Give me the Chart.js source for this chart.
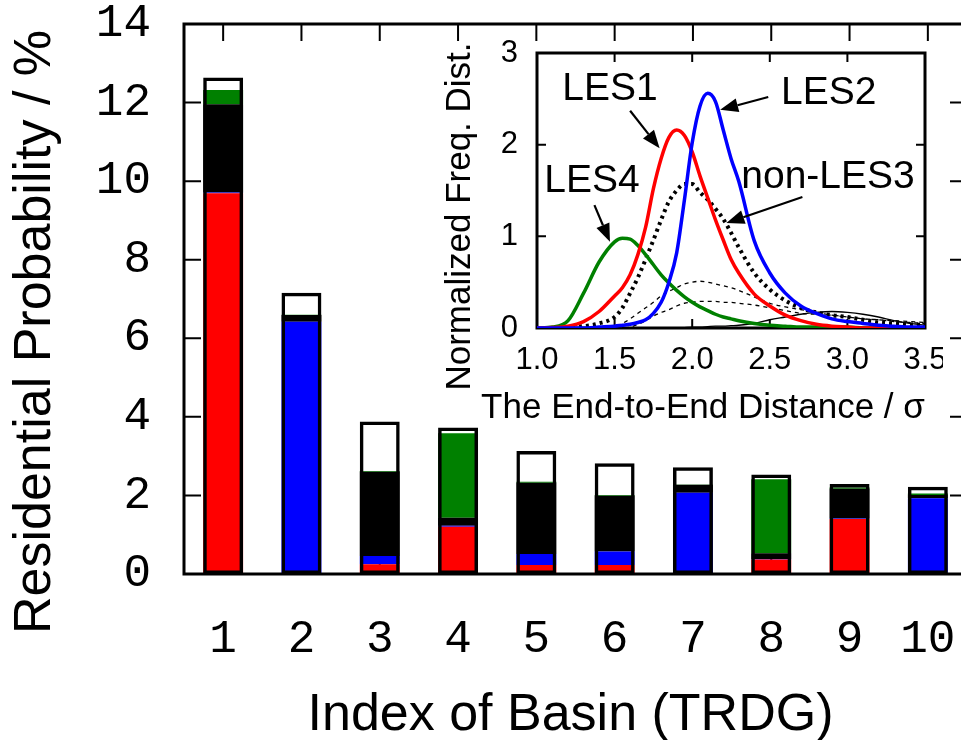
<!DOCTYPE html>
<html>
<head>
<meta charset="utf-8">
<script src="https://cdn.jsdelivr.net/npm/chart.js@4.4.1/dist/chart.umd.min.js"></script>
<style>
  html, body { margin:0; padding:0; background:#fff; overflow:hidden; }
  #wrap  { position:relative; width:961px; height:740px; overflow:hidden; }
  #main  { position:absolute; left:0; top:0; }
  #inset { position:absolute; left:430px; top:40px; }
</style>
</head>
<body>
<div id="wrap">
  <canvas id="main" width="980" height="740"></canvas>
  <canvas id="inset" width="513" height="390"></canvas>
</div>
<script>
  // ── basin populations (stacked, %) ─────────────────────────────────────────
  const basins  = ['1','2','3','4','5','6','7','8','9','10'];
  const les1    = [9.69, 0,    0.25, 1.20, 0.23, 0.23, 0,    0.37, 1.40, 0.03];
  const les2    = [0.02, 6.42, 0.21, 0.03, 0.28, 0.34, 2.07, 0.01, 0.01, 1.90];
  const nonLes3 = [2.25, 0.17, 2.14, 0.20, 1.81, 1.42, 0.20, 0.15, 0.76, 0.08];
  const les4    = [0.36, 0.01, 0.02, 2.15, 0.03, 0.02, 0.01, 1.88, 0.03, 0.04];
  const others  = [0.32, 0.56, 1.26, 0.15, 0.78, 0.81, 0.44, 0.12, 0.09, 0.17];
  const totals  = basins.map((_, i) => les1[i] + les2[i] + nonLes3[i] + les4[i] + others[i]);

  // ── end-to-end distance distributions ──────────────────────────────────────
  const dist     = [1.0,1.1,1.2,1.3,1.4,1.5,1.55,1.6,1.65,1.7,1.75,1.8,1.85,1.9,1.95,2.0,2.05,2.1,2.15,2.2,2.25,2.3,2.4,2.5,2.6,2.7,2.8,2.9,3.0,3.1,3.2,3.3,3.4,3.5];
  const distLes2 = [0,0,0,0,0.01,0.02,0.03,0.04,0.06,0.09,0.16,0.28,0.5,0.82,1.4,2.02,2.42,2.56,2.47,2.16,1.85,1.6,0.95,0.6,0.38,0.24,0.16,0.1,0.07,0.05,0.03,0.02,0.01,0.01];
  const distLes1 = [0,0.005,0.02,0.07,0.18,0.35,0.44,0.58,0.8,1.1,1.52,1.85,2.08,2.16,2.1,1.92,1.66,1.42,1.18,0.96,0.75,0.6,0.37,0.24,0.14,0.08,0.04,0.02,0.01,0,0,0,0,0];
  const distLes4 = [0,0.01,0.08,0.38,0.72,0.94,0.98,0.97,0.9,0.8,0.69,0.58,0.49,0.41,0.34,0.28,0.23,0.19,0.15,0.12,0.1,0.08,0.05,0.03,0.02,0.01,0.01,0.01,0.01,0,0,0,0,0];
  const distNon3 = [0,0,0.01,0.02,0.05,0.12,0.22,0.38,0.55,0.75,0.96,1.18,1.38,1.5,1.57,1.57,1.48,1.4,1.3,1.19,1.04,0.88,0.6,0.42,0.3,0.22,0.17,0.14,0.12,0.09,0.06,0.05,0.04,0.03];
  const distMin1 = [0,0,0,0,0,0.02,0.05,0.1,0.16,0.22,0.28,0.35,0.4,0.44,0.48,0.5,0.51,0.5,0.48,0.46,0.44,0.41,0.34,0.27,0.23,0.2,0.17,0.14,0.12,0.1,0.09,0.08,0.07,0.06];
  const distMin2 = [0,0,0,0,0,0,0,0.01,0.04,0.08,0.13,0.17,0.2,0.24,0.27,0.28,0.29,0.29,0.29,0.28,0.28,0.27,0.25,0.22,0.19,0.16,0.15,0.14,0.12,0.1,0.09,0.07,0.06,0.05];
  const distMin3 = [0,0,0,0,0,0,0,0,0,0,0,0,0,0,0.005,0.01,0.01,0.015,0.02,0.02,0.025,0.03,0.05,0.09,0.12,0.15,0.17,0.18,0.17,0.15,0.12,0.08,0.05,0.03];

  // labels + arrows inside the inset, in data units
  const insetNotes = [
    { text:'LES1',     at:[1.47, 2.60],  from:[1.60, 2.37], to:[1.79, 1.96] },
    { text:'LES2',     at:[2.88, 2.56],  from:[2.49, 2.52], to:[2.18, 2.38] },
    { text:'non-LES3', at:[2.875, 1.64], from:[2.71, 1.43], to:[2.22, 1.145] },
    { text:'LES4',     at:[1.354, 1.60], from:[1.37, 1.34], to:[1.47, 0.94] },
  ];

  const SANS = '"Liberation Sans", Arial, sans-serif';
  const MONO = '"Liberation Mono", "Courier New", monospace';
  const RED = '#ff0000', BLUE = '#0000ff', GREEN = '#008000';

  // ── MAIN FRAME: inward ticks, box, axis titles ──────────────────────────────
  const mainFrame = {
    id: 'mainFrame',
    beforeDatasetsDraw(chart) {
      const { ctx, chartArea: a, scales: { x, y } } = chart;
      const T = 17;
      ctx.save();
      ctx.strokeStyle = '#000'; ctx.lineWidth = 2;
      ctx.beginPath();
      y.ticks.forEach((_, i) => {
        const py = y.getPixelForTick(i);
        ctx.moveTo(a.left, py);  ctx.lineTo(a.left + T, py);
        ctx.moveTo(a.right, py); ctx.lineTo(a.right - T, py);
      });
      x.ticks.forEach((_, i) => {
        const px = x.getPixelForTick(i);
        ctx.moveTo(px, a.top);    ctx.lineTo(px, a.top + T);
        ctx.moveTo(px, a.bottom); ctx.lineTo(px, a.bottom - T);
      });
      ctx.stroke();
      ctx.restore();
    },
    afterDatasetsDraw(chart) {
      const { ctx, chartArea: a } = chart;
      ctx.save();
      ctx.strokeStyle = '#000'; ctx.lineWidth = 3;
      ctx.strokeRect(a.left, a.top, a.right - a.left, a.bottom - a.top);
      ctx.restore();
    },
    afterDraw(chart) {
      const { ctx, chartArea: a } = chart;
      ctx.save();
      ctx.fillStyle = '#000';
      ctx.font = '52px ' + SANS;
      ctx.textAlign = 'center'; ctx.textBaseline = 'alphabetic';
      ctx.fillText('Index of Basin (TRDG)', (a.left + a.right) / 2 - 5, a.bottom + 156);
      ctx.translate(a.left - 134, (a.top + a.bottom) / 2 + 33);
      ctx.rotate(-Math.PI / 2);
      ctx.fillText('Residential Probability / %', 0, 0);
      ctx.restore();
    }
  };

  const barCommon = { borderWidth: 0, barPercentage: 0.51, categoryPercentage: 1 };

  new Chart(document.getElementById('main'), {
    type: 'bar',
    data: {
      labels: basins,
      datasets: [
        { label:'outline', data: totals, backgroundColor:'rgba(0,0,0,0)', borderColor:'#000', borderWidth:3.5,
          borderSkipped:false, stack:'outline', grouped:false, order:-1, barPercentage:0.51, categoryPercentage:1 },
        { label:'LES1',     data: les1,    backgroundColor: RED,    ...barCommon },
        { label:'LES2',     data: les2,    backgroundColor: BLUE,   ...barCommon },
        { label:'non-LES3', data: nonLes3, backgroundColor: '#000', ...barCommon },
        { label:'LES4',     data: les4,    backgroundColor: GREEN,  ...barCommon },
        { label:'others',   data: others,  backgroundColor: '#fff', ...barCommon },
      ]
    },
    options: {
      responsive: false, animation: false, devicePixelRatio: 1,
      layout: { padding: { top: 24, right: 13, left: 0, bottom: 0 } },
      plugins: { legend: { display:false }, tooltip: { enabled:false } },
      scales: {
        x: {
          stacked: true,
          grid: { display:false, drawTicks:false }, border: { display:false },
          ticks: { font:{ family:MONO, size:46 }, color:'#000', padding:38, maxRotation:0, autoSkip:false },
          afterFit(s) { s.height = 166; s.paddingLeft = 0; s.paddingRight = 0; }
        },
        y: {
          stacked: true, min: 0, max: 14,
          grid: { display:false, drawTicks:false }, border: { display:false },
          ticks: { stepSize:2, font:{ family:MONO, size:46 }, color:'#000', padding:33 },
          afterFit(s) { s.width = 184; s.paddingTop = 0; s.paddingBottom = 0; }
        }
      }
    },
    plugins: [mainFrame]
  });

  // ── INSET: frame, ticks, titles, arrows ────────────────────────────────────
  function drawArrow(ctx, x0, y0, x1, y1) {
    const ang = Math.atan2(y1 - y0, x1 - x0), L = 18, W = 7;
    const bx = x1 - L * Math.cos(ang), by = y1 - L * Math.sin(ang);
    ctx.beginPath(); ctx.moveTo(x0, y0); ctx.lineTo(bx, by); ctx.stroke();
    ctx.beginPath();
    ctx.moveTo(x1, y1);
    ctx.lineTo(bx + W * Math.sin(ang), by - W * Math.cos(ang));
    ctx.lineTo(bx - W * Math.sin(ang), by + W * Math.cos(ang));
    ctx.closePath(); ctx.fill();
  }

  const insetFrame = {
    id: 'insetFrame',
    beforeDatasetsDraw(chart) {
      const { ctx, chartArea: a, scales: { x, y } } = chart;
      const T = 9;
      ctx.save();
      ctx.strokeStyle = '#000'; ctx.lineWidth = 2;
      ctx.beginPath();
      y.ticks.forEach((_, i) => {
        const py = y.getPixelForTick(i);
        ctx.moveTo(a.left, py);  ctx.lineTo(a.left + T, py);
        ctx.moveTo(a.right, py); ctx.lineTo(a.right - T, py);
      });
      x.ticks.forEach((_, i) => {
        const px = x.getPixelForTick(i);
        ctx.moveTo(px, a.top);    ctx.lineTo(px, a.top + T);
        ctx.moveTo(px, a.bottom); ctx.lineTo(px, a.bottom - T);
      });
      ctx.stroke();
      ctx.lineWidth = 3;
      ctx.strokeRect(a.left, a.top, a.right - a.left, a.bottom - a.top);
      ctx.restore();
    },
    afterDraw(chart) {
      const { ctx, chartArea: a, scales: { x, y } } = chart;
      ctx.save();
      ctx.fillStyle = '#000'; ctx.strokeStyle = '#000'; ctx.lineWidth = 2.2;
      ctx.font = '39px ' + SANS;
      ctx.textAlign = 'center'; ctx.textBaseline = 'middle';
      insetNotes.forEach(n => {
        ctx.fillText(n.text, x.getPixelForValue(n.at[0]), y.getPixelForValue(n.at[1]));
        drawArrow(ctx, x.getPixelForValue(n.from[0]), y.getPixelForValue(n.from[1]),
                       x.getPixelForValue(n.to[0]),   y.getPixelForValue(n.to[1]));
      });
      ctx.font = '35px ' + SANS;
      ctx.textBaseline = 'alphabetic';
      ctx.fillText('The End-to-End Distance / \u03c3', (a.left + a.right) / 2 - 28, a.bottom + 90);
      ctx.translate(a.left - 67, (a.top + a.bottom) / 2 + 26);
      ctx.rotate(-Math.PI / 2);
      ctx.fillText('Normalized Freq. Dist.', 0, 0);
      ctx.restore();
    }
  };

  const pts = arr => dist.map((d, i) => ({ x: d, y: arr[i] }));
  const curve = (arr, color, width, dash) => ({
    data: pts(arr), borderColor: color, borderWidth: width, borderDash: dash || [],
    pointRadius: 0, fill: false, tension: 0.25, cubicInterpolationMode: 'monotone'
  });

  new Chart(document.getElementById('inset'), {
    type: 'line',
    data: {
      datasets: [
        curve(distLes2, BLUE,  3.5),
        curve(distLes1, RED,   3.5),
        curve(distLes4, GREEN, 3.5),
        curve(distNon3, '#000', 4, [3, 4]),
        curve(distMin1, '#000', 1.3, [4, 4]),
        curve(distMin2, '#000', 1.3, [4, 4]),
        curve(distMin3, '#000', 1.3),
      ]
    },
    options: {
      responsive: false, animation: false, devicePixelRatio: 1,
      layout: { padding: { top: 13, right: 18, left: 0, bottom: 0 } },
      plugins: { legend: { display:false }, tooltip: { enabled:false } },
      scales: {
        x: {
          type: 'linear', min: 1, max: 3.5,
          grid: { display:false, drawTicks:false }, border: { display:false },
          ticks: { stepSize:0.5, callback: v => Number(v).toFixed(1), font:{ family:SANS, size:31 }, color:'#000',
                   padding:14, maxRotation:0, autoSkip:false },
          afterFit(s) { s.height = 102; s.paddingLeft = 0; s.paddingRight = 0; }
        },
        y: {
          min: 0, max: 3,
          grid: { display:false, drawTicks:false }, border: { display:false },
          ticks: { stepSize:1, font:{ family:SANS, size:31 }, color:'#000', padding:19 },
          afterFit(s) { s.width = 107; s.paddingTop = 0; s.paddingBottom = 0; }
        }
      }
    },
    plugins: [insetFrame]
  });
</script>
</body>
</html>
